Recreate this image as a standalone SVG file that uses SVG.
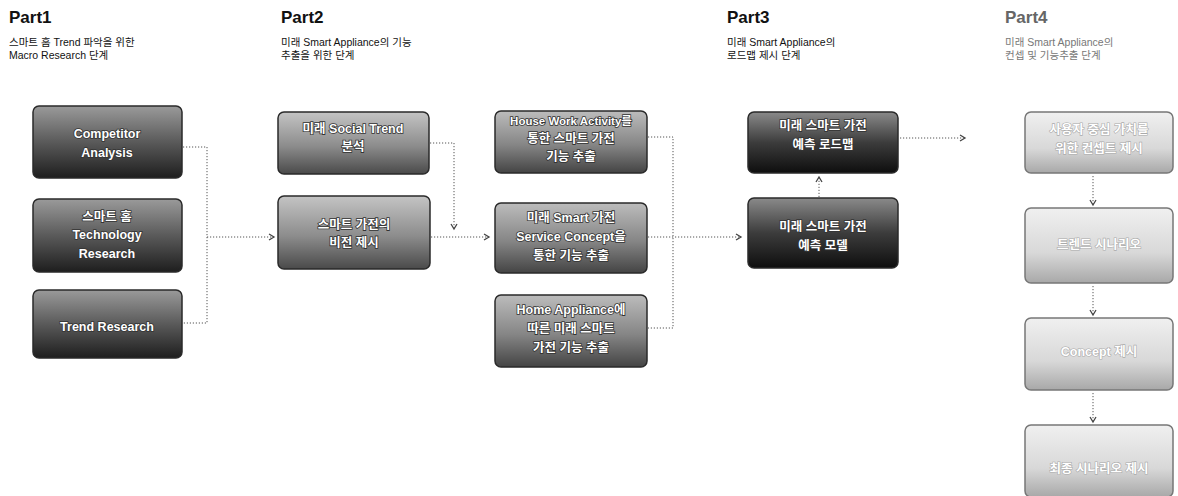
<svg xmlns="http://www.w3.org/2000/svg" width="1178" height="496" viewBox="0 0 1178 496">
<defs>
<linearGradient id="gDark" x1="0" y1="0" x2="0" y2="1">
<stop offset="0" stop-color="#9a9a9a"/><stop offset="0.5" stop-color="#5a5a5a"/><stop offset="1" stop-color="#1e1e1e"/>
</linearGradient>
<linearGradient id="gMid" x1="0" y1="0" x2="0" y2="1">
<stop offset="0" stop-color="#c4c4c4"/><stop offset="0.55" stop-color="#8c8c8c"/><stop offset="1" stop-color="#4a4a4a"/>
</linearGradient>
<linearGradient id="gMid2" x1="0" y1="0" x2="0" y2="1">
<stop offset="0" stop-color="#bcbcbc"/><stop offset="0.55" stop-color="#858585"/><stop offset="1" stop-color="#444"/>
</linearGradient>
<linearGradient id="gBlack" x1="0" y1="0" x2="0" y2="1">
<stop offset="0" stop-color="#8a8a8a"/><stop offset="0.5" stop-color="#3c3c3c"/><stop offset="1" stop-color="#0e0e0e"/>
</linearGradient>
<linearGradient id="gLight" x1="0" y1="0" x2="0" y2="1">
<stop offset="0" stop-color="#f0f0f0"/><stop offset="0.6" stop-color="#d8d8d8"/><stop offset="1" stop-color="#a8a8a8"/>
</linearGradient>
<marker id="arr" markerWidth="8" markerHeight="8" refX="6" refY="4" orient="auto" markerUnits="userSpaceOnUse">
<path d="M1,1 L6,4 L1,7" fill="none" stroke="#444" stroke-width="1.3"/>
</marker>
</defs>
<style>
.hd{font-family:"Liberation Sans","Noto Sans CJK KR",sans-serif;font-weight:bold;font-size:17px;fill:#111}
.sub{font-family:"Liberation Sans","Noto Sans CJK KR",sans-serif;font-size:10.5px;fill:#111}
.hd4{fill:#666}.sub4{fill:#777}
.box{stroke:#2a2a2a;stroke-width:1.5}
.lbox{stroke:#777;stroke-width:1.5}
.t{font-family:"Liberation Sans","Noto Sans CJK KR",sans-serif;font-weight:bold;font-size:12.5px;fill:#fff;text-anchor:middle;stroke:#333;stroke-width:1.6px;paint-order:stroke}
.sm{font-size:11.5px}
.tl{stroke:#aaa;stroke-width:1.2px}
.c{fill:none;stroke:#555;stroke-width:1;stroke-dasharray:1.2 1.8}
</style>
<g id="headers">
<text class="hd" x="9" y="23">Part1</text>
<text class="sub" x="9" y="46">스마트 홈 Trend 파악을 위한</text>
<text class="sub" x="9" y="59">Macro Research 단계</text>
<text class="hd" x="281" y="23">Part2</text>
<text class="sub" x="281" y="46">미래 Smart Appliance의 기능</text>
<text class="sub" x="281" y="59">추출을 위한 단계</text>
<text class="hd" x="727" y="23">Part3</text>
<text class="sub" x="727" y="46">미래 Smart Appliance의</text>
<text class="sub" x="727" y="59">로드맵 제시 단계</text>
<text class="hd hd4" x="1005" y="23">Part4</text>
<text class="sub sub4" x="1005" y="46">미래 Smart Appliance의</text>
<text class="sub sub4" x="1005" y="59">컨셉 및 기능추출 단계</text>
</g>
<g id="connectors">
<path class="c" d="M183,147 H207 V323 H183"/>
<path class="c" d="M207,237 H274" marker-end="url(#arr)"/>
<path class="c" d="M430,143 H454 V229" marker-end="url(#arr)"/>
<path class="c" d="M431,237 H489" marker-end="url(#arr)"/>
<path class="c" d="M648,137 H673 V328 H648"/>
<path class="c" d="M648,237 H741" marker-end="url(#arr)"/>
<path class="c" d="M819,197 V177" marker-end="url(#arr)"/>
<path class="c" d="M900,138 H965" marker-end="url(#arr)"/>
<path class="c" d="M1093,176 V205" marker-end="url(#arr)"/>
<path class="c" d="M1093,286 V315" marker-end="url(#arr)"/>
<path class="c" d="M1093,393 V422" marker-end="url(#arr)"/>
</g>
<g id="p1-competitor"><rect class="box" x="33" y="106" width="149" height="72" rx="6" fill="url(#gDark)"/>
<text class="t" x="107" y="138">Competitor</text><text class="t" x="107" y="157">Analysis</text></g>
<g id="p1-tech"><rect class="box" x="33" y="199" width="149" height="73" rx="6" fill="url(#gDark)"/>
<text class="t" x="107" y="221">스마트 홈</text><text class="t" x="107" y="239">Technology</text><text class="t" x="107" y="258">Research</text></g>
<g id="p1-trend"><rect class="box" x="33" y="290" width="149" height="68" rx="6" fill="url(#gDark)"/>
<text class="t" x="107" y="331">Trend Research</text></g>
<g id="p2-social"><rect class="box" x="278" y="112" width="151" height="62" rx="6" fill="url(#gMid)"/>
<text class="t" x="353" y="133">미래 Social Trend</text><text class="t" x="353" y="151">분석</text></g>
<g id="p2-vision"><rect class="box" x="278" y="196" width="152" height="73" rx="6" fill="url(#gMid)"/>
<text class="t" x="354" y="229">스마트 가전의</text><text class="t" x="354" y="247">비전 제시</text></g>
<g id="p2-housework"><rect class="box" x="495" y="111" width="152" height="62" rx="6" fill="url(#gMid2)"/>
<text class="t sm" x="571" y="125">House Work Activity를</text><text class="t" x="571" y="143">통한 스마트 가전</text><text class="t" x="571" y="161">기능 추출</text></g>
<g id="p2-service"><rect class="box" x="495" y="203" width="152" height="70" rx="6" fill="url(#gMid2)"/>
<text class="t" x="571" y="222">미래 Smart 가전</text><text class="t" x="571" y="241">Service Concept을</text><text class="t" x="571" y="260">통한 기능 추출</text></g>
<g id="p2-home"><rect class="box" x="495" y="295" width="152" height="72" rx="6" fill="url(#gMid2)"/>
<text class="t" x="571" y="314">Home Appliance에</text><text class="t" x="571" y="333">따른 미래 스마트</text><text class="t" x="571" y="352">가전 기능 추출</text></g>
<g id="p3-roadmap"><rect class="box" x="748" y="112" width="150" height="61" rx="6" fill="url(#gBlack)"/>
<text class="t" x="823" y="130">미래 스마트 가전</text><text class="t" x="823" y="149">예측 로드맵</text></g>
<g id="p3-model"><rect class="box" x="748" y="198" width="150" height="70" rx="6" fill="url(#gBlack)"/>
<text class="t" x="823" y="231">미래 스마트 가전</text><text class="t" x="823" y="250">예측 모델</text></g>
<g id="p4-value"><rect class="lbox" x="1025" y="112" width="148" height="61" rx="6" fill="url(#gLight)"/>
<text class="t tl" x="1099" y="134">사용자 중심 가치를</text><text class="t tl" x="1099" y="153">위한 컨셉트 제시</text></g>
<g id="p4-scenario"><rect class="lbox" x="1025" y="208" width="148" height="75" rx="6" fill="url(#gLight)"/>
<text class="t tl" x="1099" y="249">트렌드 시나리오</text></g>
<g id="p4-concept"><rect class="lbox" x="1025" y="318" width="148" height="72" rx="6" fill="url(#gLight)"/>
<text class="t tl" x="1099" y="356">Concept 제시</text></g>
<g id="p4-final"><rect class="lbox" x="1025" y="425" width="148" height="72" rx="6" fill="url(#gLight)"/>
<text class="t tl" x="1099" y="473">최종 시나리오 제시</text></g>
</svg>
